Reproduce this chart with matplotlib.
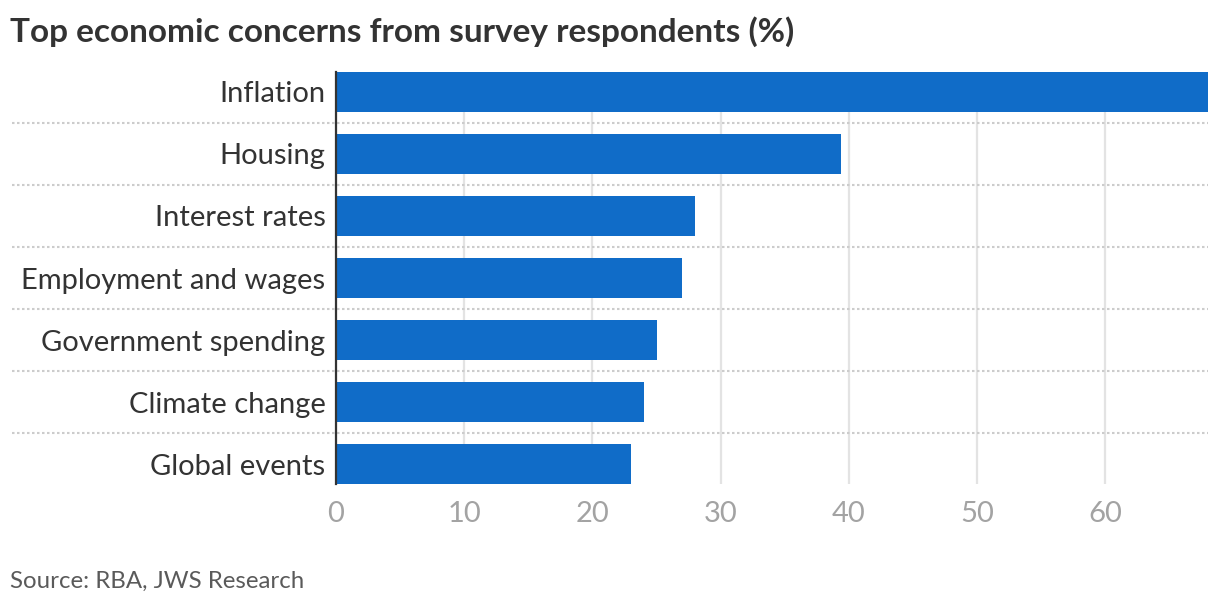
import numpy as np
import matplotlib.pyplot as plt
import matplotlib.transforms as mtransforms

plt.rcParams['font.family'] = ['Lato', 'DejaVu Sans']

# data
concerns = ['Inflation', 'Housing', 'Interest rates', 'Employment and wages',
            'Government spending', 'Climate change', 'Global events']
share = [68, 39.4, 28, 27, 25, 24, 23]
xticks = [0, 10, 20, 30, 40, 50, 60]

bar_col = '#106cc8'
bar_h = 0.645

fig = plt.figure(figsize=(12.2, 6.08), dpi=100)
ax = fig.add_axes([336/1220, 1-484/608, (1208-336)/1220, (484-72)/608])

y = np.arange(len(concerns))
ax.barh(y, share, height=bar_h, color=bar_col, zorder=3)

ax.set_xlim(0, 68)
ax.set_ylim(len(concerns)-1+bar_h/2, -bar_h/2)
ax.set_yticks(y)
ax.set_yticklabels(concerns, fontsize=21, color='#333333')
ax.set_xticks(xticks)
ax.set_xticklabels([str(t) for t in xticks], fontsize=21, color='#a3a3a3')
ax.tick_params(axis='y', length=0, pad=7.5)
ax.tick_params(axis='x', length=0, pad=12)
for lab in ax.get_yticklabels():
    lab.set_verticalalignment('center_baseline')

for s in ['top', 'right', 'bottom']:
    ax.spines[s].set_visible(False)
ax.spines['left'].set_color('#333333')
ax.spines['left'].set_linewidth(1.6)
ax.spines['left'].set_zorder(4)

ax.xaxis.grid(True, color='#e3e3e3', linewidth=1.6, zorder=0)
ax.set_axisbelow(True)

# dotted separators between categories, running into the label area
trans = mtransforms.blended_transform_factory(fig.transFigure, ax.transData)
for yy in y[:-1] + 0.5:
    ax.plot([12/1220, 1208/1220], [yy, yy], transform=trans, clip_on=False,
            color='#cccccc', linewidth=1.5, linestyle=(0, (1.2, 1.2)), zorder=1)

fig.text(10/1220, 1-32/608, 'Top economic concerns from survey respondents (%)',
         fontsize=24, fontweight='bold', color='#333333', va='center', ha='left')
fig.text(10/1220, 1-581/608, 'Source: RBA, JWS Research',
         fontsize=17.3, color='#5a5a5a', va='center', ha='left')

fig.savefig('out.png', dpi=100)
